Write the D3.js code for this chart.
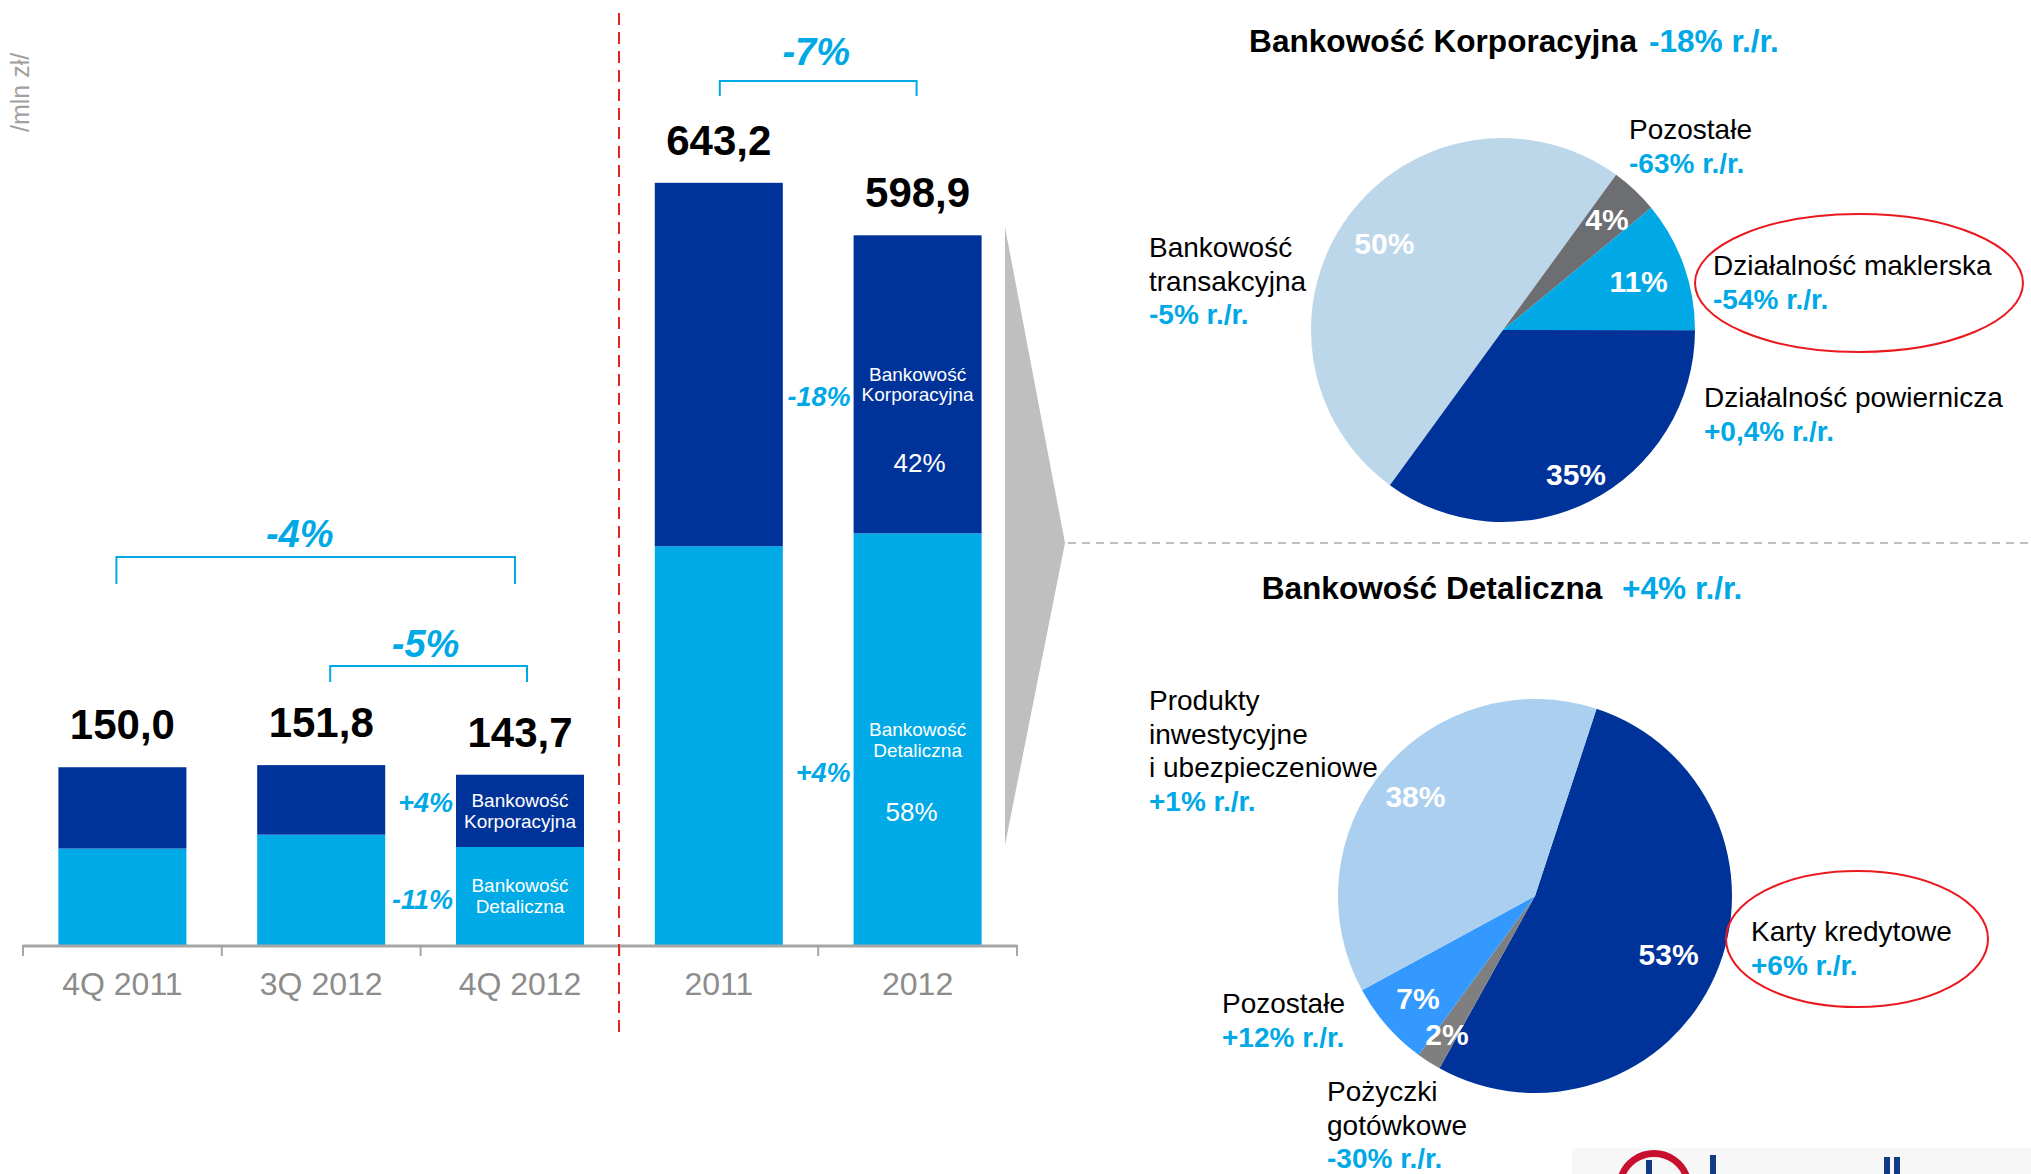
<!DOCTYPE html>
<html lang="pl">
<head>
<meta charset="utf-8">
<title>Przychody – segmenty</title>
<script src="https://cdn.jsdelivr.net/npm/d3@7"></script>
<style>
  html, body { margin: 0; padding: 0; background: #ffffff; }
  svg { display: block; font-family: "Liberation Sans", Arial, Helvetica, sans-serif; }
</style>
</head>
<body>
<svg id="chart" width="2031" height="1174"></svg>
<script>
// ---- data -------------------------------------------------------------
const periods = ["4Q 2011", "3Q 2012", "4Q 2012", "2011", "2012"];
const retailValues = [81.4, 93.1, 82.7, 336.5, 347.4];      // Bankowość Detaliczna
const corporateValues = [68.6, 58.7, 61.0, 306.7, 251.5];   // Bankowość Korporacyjna

const bracketPairs = [["4Q 2011", "4Q 2012"], ["3Q 2012", "4Q 2012"], ["2011", "2012"]];
const bracketLabels = ["-4%", "-5%", "-7%"];
const quarterSegmentChanges = ["+4%", "-11%"];   // korporacyjna, detaliczna (4Q 2012 vs 3Q 2012)
const yearSegmentChanges = ["-18%", "+4%"];      // korporacyjna, detaliczna (2012 vs 2011)
const yearShares = ["42%", "58%"];

const corpSegments = ["Bankowość transakcyjna", "Pozostałe", "Działalność maklerska", "Działalność powiernicza"];
const corpShares = [50, 4, 11, 35];
const corpChanges = ["-5% r./r.", "-63% r./r.", "-54% r./r.", "+0,4% r./r."];
const corpTitle = ["Bankowość Korporacyjna", "-18% r./r."];

const retailSegments = ["Karty kredytowe", "Pożyczki gotówkowe", "Pozostałe", "Produkty inwestycyjne i ubezpieczeniowe"];
const retailShares = [53, 2, 7, 38];
const retailChanges = ["+6% r./r.", "-30% r./r.", "+12% r./r.", "+1% r./r."];
const retailTitle = ["Bankowość Detaliczna", "+4% r./r."];

const unitLabel = "/mln zł/";

// ---- styles -----------------------------------------------------------
const DARK = "#003399", CYAN = "#00AAE6", ACCENT = "#00A9E6", AXIS = "#A6A6A6";
const corpColors = ["#BDD7EA", "#6D6E71", "#00A9E6", "#003399"];
const retailColors = ["#003399", "#7F7F7F", "#3399FF", "#AACFEF"];
// radial placement of the percentage inside each slice (fraction of radius)
const corpLabelRadius = [0.765, 0.79, 0.75, 0.84];
const retailLabelRadius = [0.74, 0.83, 0.79, 0.79];

const svg = d3.select("#chart");
svg.append("rect").attr("width", 2031).attr("height", 1174).attr("fill", "#fff");

// ---- bar chart --------------------------------------------------------
const x = d3.scaleBand().domain(periods).range([23, 1017]).paddingInner(0.356).paddingOuter(0.178);
const y = d3.scaleLinear().domain([0, 700]).range([945, 945 - 700 * 1.185]);

const stackRows = periods.map((p, i) => ({ period: p, retail: retailValues[i], corporate: corporateValues[i] }));
const stacked = d3.stack().keys(["retail", "corporate"])(stackRows);
const fills = { retail: CYAN, corporate: DARK };

const bars = svg.append("g");
stacked.forEach(layer => {
  bars.append("g").attr("fill", fills[layer.key])
    .selectAll("rect").data(layer).join("rect")
    .attr("x", d => x(d.data.period))
    .attr("width", x.bandwidth())
    .attr("y", d => y(d[1]))
    .attr("height", d => y(d[0]) - y(d[1]));
});

// totals above bars
const fmt = v => d3.format(".1f")(v).replace(".", ",");
svg.append("g").selectAll("text").data(stackRows).join("text")
  .attr("x", d => x(d.period) + x.bandwidth() / 2)
  .attr("y", d => y(d.retail + d.corporate) - 28)
  .attr("text-anchor", "middle")
  .attr("font-size", 42).attr("font-weight", "bold").attr("fill", "#000")
  .text(d => fmt(d.retail + d.corporate));

// axis
const axisG = svg.append("g").attr("transform", `translate(0,${y(0)})`)
  .call(d3.axisBottom(x).tickSize(0).tickPadding(0));
axisG.select(".domain").remove();
axisG.selectAll("text")
  .attr("y", 50).attr("dy", null)
  .attr("font-size", 32).attr("fill", "#8C8C8C").attr("font-family", null);
const step = x.step(), halfGap = step * x.paddingInner() / 2;
const boundaries = periods.map(p => x(p) - halfGap).concat([x(periods[periods.length - 1]) + x.bandwidth() + halfGap]);
svg.append("line")
  .attr("x1", boundaries[0]).attr("x2", boundaries[boundaries.length - 1])
  .attr("y1", y(0) + 1).attr("y2", y(0) + 1)
  .attr("stroke", AXIS).attr("stroke-width", 3);
svg.append("g").selectAll("line").data(boundaries).join("line")
  .attr("x1", d => d).attr("x2", d => d)
  .attr("y1", y(0)).attr("y2", y(0) + 11)
  .attr("stroke", AXIS).attr("stroke-width", 2);

// brackets with change labels
const center = p => x(p) + x.bandwidth() / 2;
const bracketGeom = [
  { dx1: -6, dx2: -5, top: 557, bottom: 584, label: 547, labelDx: -16 },
  { dx1: 9, dx2: 7, top: 666, bottom: 682, label: 657, labelDx: -3 },
  { dx1: 1, dx2: -1, top: 81, bottom: 96, label: 65, labelDx: -2 }
];
bracketPairs.forEach((pair, i) => {
  const g = bracketGeom[i];
  const x1 = center(pair[0]) + g.dx1, x2 = center(pair[1]) + g.dx2;
  svg.append("path")
    .attr("d", `M${x1},${g.bottom}V${g.top}H${x2}V${g.bottom}`)
    .attr("fill", "none").attr("stroke", ACCENT).attr("stroke-width", 2);
  svg.append("text")
    .attr("x", (x1 + x2) / 2 + g.labelDx).attr("y", g.label)
    .attr("text-anchor", "middle")
    .attr("font-size", 38).attr("font-weight", "bold").attr("font-style", "italic")
    .attr("fill", ACCENT).text(bracketLabels[i]);
});

// segment change labels beside the bars
function sideLabel(period, yPos, txt) {
  svg.append("text")
    .attr("x", x(period) - 3).attr("y", yPos)
    .attr("text-anchor", "end")
    .attr("font-size", 27).attr("font-weight", "bold").attr("font-style", "italic")
    .attr("fill", ACCENT).text(txt);
}
sideLabel("4Q 2012", 812, quarterSegmentChanges[0]);
sideLabel("4Q 2012", 909, quarterSegmentChanges[1]);
sideLabel("2012", 406, yearSegmentChanges[0]);
sideLabel("2012", 782, yearSegmentChanges[1]);

// labels inside bars
function innerLines(period, baselines, lines, size, dxShift) {
  const t = svg.append("text")
    .attr("text-anchor", "middle").attr("font-size", size).attr("fill", "#fff");
  lines.forEach((ln, k) => {
    t.append("tspan").attr("x", center(period) + (dxShift || 0)).attr("y", baselines[k]).text(ln);
  });
}
innerLines("4Q 2012", [807, 828], ["Bankowość", "Korporacyjna"], 19);
innerLines("4Q 2012", [892, 913], ["Bankowość", "Detaliczna"], 19);
innerLines("2012", [381, 401], ["Bankowość", "Korporacyjna"], 19);
innerLines("2012", [472], [yearShares[0]], 26, 2);
innerLines("2012", [821], [yearShares[1]], 26, -6);
innerLines("2012", [736, 757], ["Bankowość", "Detaliczna"], 19);

// unit label
svg.append("text")
  .attr("transform", "translate(29,132) rotate(-90)")
  .attr("font-size", 25).attr("fill", "#A0A0A0").text(unitLabel);

// divider between quarterly and annual figures
svg.append("line")
  .attr("x1", 619).attr("x2", 619).attr("y1", 13).attr("y2", 1032)
  .attr("stroke", "#E52421").attr("stroke-width", 2).attr("stroke-dasharray", "12 7");

// grey pointer and horizontal separator
svg.append("path").attr("d", "M1005,227L1065,543L1005,845Z").attr("fill", "#BFBFBF");
svg.append("line")
  .attr("x1", 1068).attr("x2", 2031).attr("y1", 543).attr("y2", 543)
  .attr("stroke", "#BFBFBF").attr("stroke-width", 2).attr("stroke-dasharray", "8 6");

// ---- pies -------------------------------------------------------------
function drawPie(cx, cy, r, values, colors, startDeg, labelRadius) {
  const a0 = startDeg * Math.PI / 180;
  const arcs = d3.pie().sort(null).startAngle(a0).endAngle(a0 + 2 * Math.PI)(values);
  const arc = d3.arc().innerRadius(0).outerRadius(r);
  const g = svg.append("g").attr("transform", `translate(${cx},${cy})`);
  g.selectAll("path").data(arcs).join("path")
    .attr("d", arc).attr("fill", (d, i) => colors[i]);
  g.selectAll("text").data(arcs).join("text")
    .attr("transform", (d, i) => {
      const rr = r * labelRadius[i];
      return `translate(${d3.arc().innerRadius(rr).outerRadius(rr).centroid(d)})`;
    })
    .attr("text-anchor", "middle").attr("dy", "0.36em")
    .attr("font-size", 30).attr("font-weight", "bold").attr("fill", "#fff")
    .text(d => d.data + "%");
}
drawPie(1503, 330, 192, corpShares, corpColors, 216.1, corpLabelRadius);
drawPie(1535, 896, 197, retailShares, retailColors, 18.2, retailLabelRadius);

// pie titles
function title(cx, yBase, parts, gap) {
  const t = svg.append("text").attr("x", cx).attr("y", yBase)
    .attr("text-anchor", "middle").attr("font-size", 31.6).attr("font-weight", "bold");
  t.append("tspan").attr("fill", "#000").text(parts[0]);
  t.append("tspan").attr("fill", ACCENT).attr("dx", gap).text(" " + parts[1]);
}
title(1514, 52, corpTitle, 3);
title(1502, 599, retailTitle, 11);

// segment labels: name lines in black, change in blue bold
function segLabel(xPos, yFirst, nameLines, change) {
  const t = svg.append("text").attr("font-size", 28);
  nameLines.forEach((ln, k) => {
    t.append("tspan").attr("x", xPos).attr("y", yFirst + k * 33.5).attr("fill", "#000").text(ln);
  });
  t.append("tspan").attr("x", xPos).attr("y", yFirst + nameLines.length * 33.5)
    .attr("fill", ACCENT).attr("font-weight", "bold").text(change);
}
segLabel(1149, 257, ["Bankowość", "transakcyjna"], corpChanges[0]);
segLabel(1629, 139, [corpSegments[1]], corpChanges[1]);
segLabel(1713, 275, [corpSegments[2]], corpChanges[2]);
segLabel(1704, 407, [corpSegments[3]], corpChanges[3]);

segLabel(1751, 941, [retailSegments[0]], retailChanges[0]);
segLabel(1327, 1101, ["Pożyczki", "gotówkowe"], retailChanges[1]);
segLabel(1222, 1013, [retailSegments[2]], retailChanges[2]);
segLabel(1149, 710, ["Produkty", "inwestycyjne", "i ubezpieczeniowe"], retailChanges[3]);

// highlight rings
svg.append("ellipse").attr("cx", 1859).attr("cy", 283).attr("rx", 164).attr("ry", 69)
  .attr("fill", "none").attr("stroke", "#E8191F").attr("stroke-width", 2);
svg.append("ellipse").attr("cx", 1857).attr("cy", 939).attr("rx", 131).attr("ry", 68)
  .attr("fill", "none").attr("stroke", "#E8191F").attr("stroke-width", 2);

// ---- logo strip (bottom right) ---------------------------------------
const logo = svg.append("g");
logo.append("rect").attr("x", 1572).attr("y", 1148).attr("width", 459).attr("height", 26).attr("fill", "#F7F7F7");
logo.append("path")
  .attr("d", d3.arc().innerRadius(31).outerRadius(38).startAngle(-1.25).endAngle(1.25)())
  .attr("transform", "translate(1654,1188)").attr("fill", "#C8102E");
[[1646, 1160], [1710, 1155], [1884, 1157], [1894, 1157]].forEach(([lx, ly]) => {
  logo.append("rect").attr("x", lx).attr("y", ly).attr("width", 6).attr("height", 1174 - ly).attr("fill", "#0F3C84");
});
</script>
</body>
</html>
